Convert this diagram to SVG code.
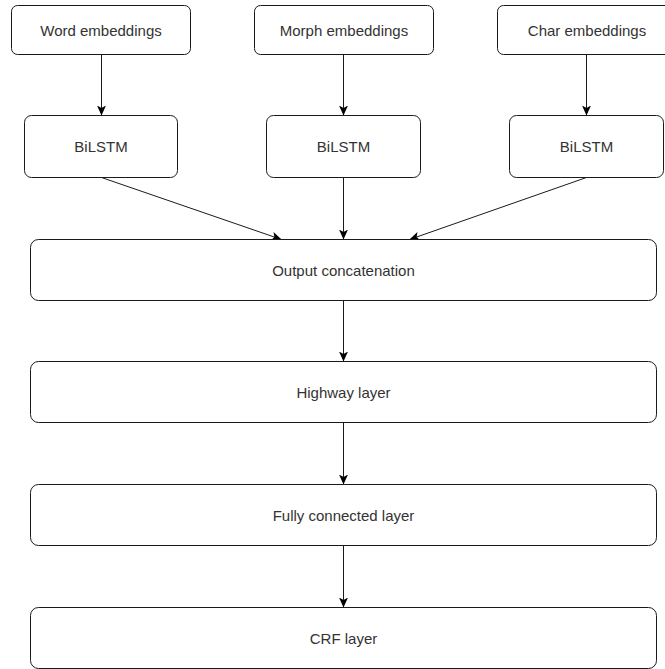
<svg xmlns="http://www.w3.org/2000/svg" width="665" height="669" viewBox="0 0 665 669">
<style>
.box{fill:#ffffff;stroke:#1a1a1a;stroke-width:1}
.lbl{font-family:"Liberation Sans",Arial,sans-serif;font-size:15px;fill:#333333;text-anchor:middle}
.edge{stroke:#1a1a1a;stroke-width:1;fill:none;marker-end:url(#arr)}
</style>
<defs>
<marker id="arr" markerUnits="userSpaceOnUse" markerWidth="11" markerHeight="10" refX="10" refY="4.5" orient="auto">
<path d="M0,0 L10,4.5 L0,9 L2.5,4.5 Z" fill="#000000"/>
</marker>
</defs>
<rect width="665" height="669" fill="#ffffff"/>
<g id="connectors">
<line class="edge" x1="101.5" y1="54.5" x2="101.5" y2="115.5"/>
<line class="edge" x1="343.5" y1="54.5" x2="343.5" y2="115.5"/>
<line class="edge" x1="586.5" y1="54.5" x2="586.5" y2="115.5"/>
<line class="edge" x1="101.5" y1="177.5" x2="281.5" y2="239.5"/>
<line class="edge" x1="343.5" y1="177.5" x2="343.5" y2="239.5"/>
<line class="edge" x1="586.5" y1="177.5" x2="409.5" y2="239.5"/>
<line class="edge" x1="343.5" y1="300.5" x2="343.5" y2="361.5"/>
<line class="edge" x1="343.5" y1="422.5" x2="343.5" y2="484.5"/>
<line class="edge" x1="343.5" y1="545.5" x2="343.5" y2="607.5"/>
</g>
<g id="word-emb"><rect class="box" x="11.5" y="5.5" width="179" height="49" rx="6"/><text class="lbl" x="101" y="36">Word embeddings</text></g>
<g id="morph-emb"><rect class="box" x="254.5" y="5.5" width="179" height="49" rx="6"/><text class="lbl" x="344" y="36">Morph embeddings</text></g>
<g id="char-emb"><rect class="box" x="497.5" y="5.5" width="179" height="49" rx="6"/><text class="lbl" x="587" y="36">Char embeddings</text></g>
<g id="bilstm-1"><rect class="box" x="24.5" y="115.5" width="153" height="62" rx="7"/><text class="lbl" x="101" y="152">BiLSTM</text></g>
<g id="bilstm-2"><rect class="box" x="266.5" y="115.5" width="154" height="62" rx="7"/><text class="lbl" x="343.5" y="152">BiLSTM</text></g>
<g id="bilstm-3"><rect class="box" x="509.5" y="115.5" width="154" height="62" rx="7"/><text class="lbl" x="586.5" y="152">BiLSTM</text></g>
<g id="concat"><rect class="box" x="30.5" y="239.5" width="626" height="61" rx="8"/><text class="lbl" x="343.5" y="275.5">Output concatenation</text></g>
<g id="highway"><rect class="box" x="30.5" y="361.5" width="626" height="61" rx="8"/><text class="lbl" x="343.5" y="397.5">Highway layer</text></g>
<g id="fc"><rect class="box" x="30.5" y="484.5" width="626" height="61" rx="8"/><text class="lbl" x="343.5" y="520.5">Fully connected layer</text></g>
<g id="crf"><rect class="box" x="30.5" y="607.5" width="626" height="61" rx="8"/><text class="lbl" x="343.5" y="643.5">CRF layer</text></g>
</svg>
